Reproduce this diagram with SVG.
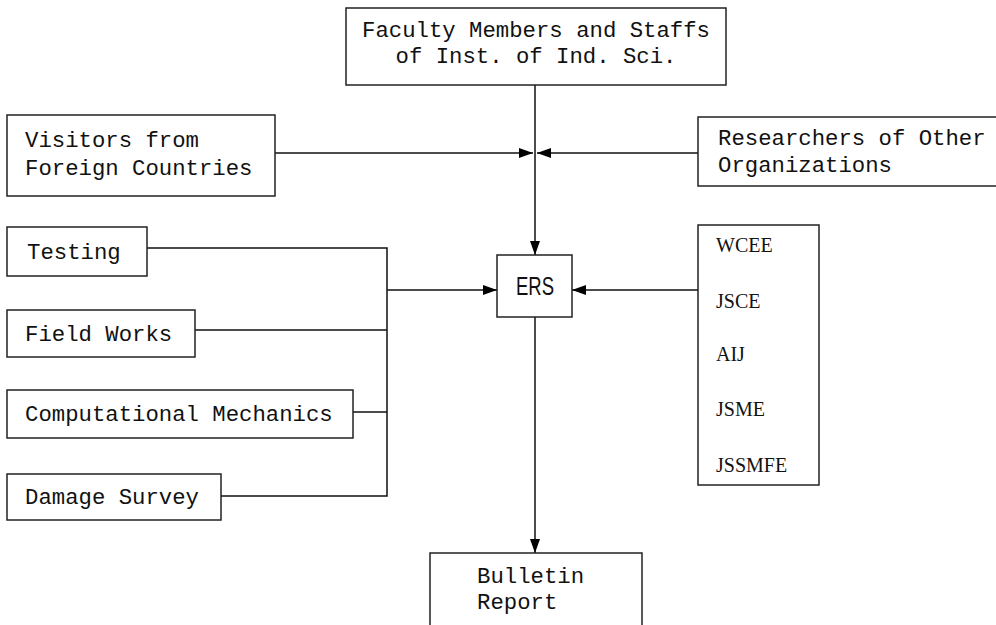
<svg xmlns="http://www.w3.org/2000/svg" width="996" height="625" viewBox="0 0 996 625">
<defs>
<marker id="ah" viewBox="0 0 14 10" refX="14" refY="5" markerWidth="14" markerHeight="10" markerUnits="userSpaceOnUse" orient="auto">
<path d="M0,0 L14,5 L0,10 Z" fill="#000"/>
</marker>
</defs>
<style>
rect{fill:#fff;stroke:#222;stroke-width:1.5}
text{font-family:"Liberation Mono","DejaVu Sans Mono",monospace;font-size:22.3px;fill:#111}
.sans{font-family:"Liberation Sans",Arial,sans-serif;font-size:25px}
.serif{font-family:"Liberation Serif","Times New Roman",serif;font-size:20px}
.c line,.c polyline{stroke:#111;stroke-width:1.5;fill:none}
</style>
<rect x="0" y="0" width="996" height="625" style="fill:#fff;stroke:none"/>
<g class="c" id="connectors">
<line x1="535" y1="85" x2="535" y2="255" marker-end="url(#ah)"/>
<line x1="275" y1="153" x2="533" y2="153" marker-end="url(#ah)"/>
<line x1="698" y1="153" x2="537" y2="153" marker-end="url(#ah)"/>
<polyline points="147,248 387,248 387,496 221,496"/>
<line x1="195" y1="330" x2="387" y2="330"/>
<line x1="353" y1="412" x2="387" y2="412"/>
<line x1="387" y1="290" x2="497" y2="290" marker-end="url(#ah)"/>
<line x1="698" y1="290" x2="572" y2="290" marker-end="url(#ah)"/>
<line x1="535" y1="317" x2="535" y2="553" marker-end="url(#ah)"/>
</g>
<g id="faculty">
<rect x="346" y="8" width="380" height="77"/>
<text x="536" y="37" text-anchor="middle">Faculty Members and Staffs</text>
<text x="536" y="63" text-anchor="middle">of Inst. of Ind. Sci.</text>
</g>
<g id="visitors">
<rect x="7" y="115" width="268" height="81"/>
<text x="25" y="147">Visitors from</text>
<text x="25" y="175">Foreign Countries</text>
</g>
<g id="researchers">
<rect x="698" y="117" width="310" height="69"/>
<text x="718" y="145">Researchers of Other</text>
<text x="718" y="172">Organizations</text>
</g>
<g id="testing">
<rect x="7" y="227" width="140" height="49"/>
<text x="27" y="259">Testing</text>
</g>
<g id="fieldworks">
<rect x="7" y="310" width="188" height="47"/>
<text x="25" y="341">Field Works</text>
</g>
<g id="computational">
<rect x="7" y="390" width="346" height="48"/>
<text x="25" y="421">Computational Mechanics</text>
</g>
<g id="damage">
<rect x="7" y="474" width="214" height="46"/>
<text x="25" y="504">Damage Survey</text>
</g>
<g id="ers">
<rect x="497" y="255" width="75" height="62"/>
<text class="sans" x="516" y="295" textLength="38" lengthAdjust="spacingAndGlyphs">ERS</text>
</g>
<g id="societies">
<rect x="698" y="225" width="121" height="260"/>
<text class="serif" x="716" y="252">WCEE</text>
<text class="serif" x="716" y="308">JSCE</text>
<text class="serif" x="716" y="361">AIJ</text>
<text class="serif" x="716" y="416">JSME</text>
<text class="serif" x="716" y="472">JSSMFE</text>
</g>
<g id="bulletin">
<rect x="430" y="553" width="212" height="80"/>
<text x="477" y="583">Bulletin</text>
<text x="477" y="609">Report</text>
</g>
</svg>
